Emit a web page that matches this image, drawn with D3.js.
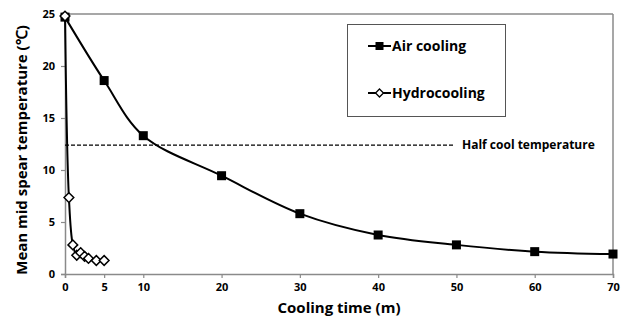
<!DOCTYPE html>
<html><head><meta charset="utf-8">
<script src="https://cdn.jsdelivr.net/npm/d3@7"></script>
<style>body{margin:0;background:#fff}svg{display:block}text{font-family:"Open Sans","Liberation Sans",sans-serif;font-weight:bold}</style>
</head><body>
<svg id="c" width="626" height="322"></svg>
<script>
const airTime = [0, 5, 10, 20, 30, 40, 50, 60, 70];
const airTemp = [24.7, 18.6, 13.3, 9.45, 5.8, 3.75, 2.8, 2.15, 1.92];
const hydroTime = [0, 0.5, 1, 1.5, 2, 2.5, 3, 4, 5];
const hydroTemp = [24.8, 7.35, 2.8, 1.8, 2.05, 1.7, 1.5, 1.3, 1.3];
const xTicks = [0, 5, 10, 20, 30, 40, 50, 60, 70];
const yTicks = [0, 5, 10, 15, 20, 25];
const halfCool = 12.4;
const seriesNames = ["Air cooling", "Hydrocooling"];

const svg = d3.select("#c");
const x = d3.scaleLinear().domain([0, 70]).range([65, 613]);
const y = d3.scaleLinear().domain([0, 25]).range([274, 14]);
const axisColor = "#8a8a8a";

// frame top/right
svg.append("line").attr("x1", x(0)).attr("x2", x(70)).attr("y1", y(25)).attr("y2", y(25)).attr("stroke", axisColor).attr("stroke-width", 1.5);
svg.append("line").attr("x1", x(70)).attr("x2", x(70)).attr("y1", y(25)).attr("y2", y(0)).attr("stroke", axisColor).attr("stroke-width", 1.5);

const xa = svg.append("g").attr("transform", `translate(0,${y(0)})`)
  .call(d3.axisBottom(x).tickValues(xTicks).tickSize(4).tickPadding(5).tickFormat(d3.format("d")));
const ya = svg.append("g").attr("transform", `translate(${x(0)},0)`)
  .call(d3.axisLeft(y).tickValues(yTicks).tickSize(4).tickPadding(6).tickFormat(d3.format("d")));
[xa, ya].forEach(a => {
  a.select(".domain").attr("stroke", axisColor).attr("stroke-width", 1.5);
  a.selectAll(".tick line").attr("stroke", axisColor).attr("stroke-width", 1.2);
  a.selectAll("text").attr("font-size", 11).attr("fill", "#000").style("font-weight", "bold");
});

// half cool line
svg.append("line").attr("x1", x(0)).attr("x2", 455).attr("y1", y(halfCool)).attr("y2", y(halfCool))
  .attr("stroke", "#000").attr("stroke-width", 1.2).attr("stroke-dasharray", "4,2");
svg.append("text").attr("x", 462).attr("y", y(halfCool) + 4).attr("font-size", 12).text("Half cool temperature");

const line = d3.line().x(d => x(d[0])).y(d => y(d[1])).curve(d3.curveCatmullRom.alpha(0.5));
const air = airTime.map((t, i) => [t, airTemp[i]]);
const hydro = hydroTime.map((t, i) => [t, hydroTemp[i]]);

svg.append("path").attr("d", line(hydro)).attr("fill", "none").attr("stroke", "#000").attr("stroke-width", 2);
svg.append("path").attr("d", line(air)).attr("fill", "none").attr("stroke", "#000").attr("stroke-width", 2);

const sq = 9;
svg.selectAll(".sq").data(air).join("rect")
  .attr("x", d => x(d[0]) - sq / 2).attr("y", d => y(d[1]) - sq / 2)
  .attr("width", sq).attr("height", sq).attr("fill", "#000");
const diamond = d3.symbol().type(d3.symbolDiamond2).size(60);
svg.selectAll(".dm").data(hydro).join("path")
  .attr("transform", d => `translate(${x(d[0])},${y(d[1])})`)
  .attr("d", diamond).attr("fill", "#fff").attr("stroke", "#000").attr("stroke-width", 1.5);

// legend
svg.append("rect").attr("x", 347.5).attr("y", 24.5).attr("width", 158).attr("height", 92)
  .attr("fill", "#fff").attr("stroke", "#555").attr("stroke-width", 1);
const lg = [{ y: 46, type: "sq" }, { y: 93, type: "dm" }];
lg.forEach((l, i) => {
  svg.append("line").attr("x1", 368).attr("x2", 391).attr("y1", l.y).attr("y2", l.y).attr("stroke", "#000").attr("stroke-width", 2);
  if (l.type === "sq") {
    svg.append("rect").attr("x", 379.5 - 4).attr("y", l.y - 4).attr("width", 8).attr("height", 8).attr("fill", "#000");
  } else {
    svg.append("path").attr("transform", `translate(379.5,${l.y})`).attr("d", d3.symbol().type(d3.symbolDiamond2).size(40))
      .attr("fill", "#fff").attr("stroke", "#000").attr("stroke-width", 1.3);
  }
  svg.append("text").attr("x", 392).attr("y", l.y + 5).attr("font-size", 14).text(seriesNames[i]);
});

// axis titles
svg.append("text").attr("x", 339).attr("y", 313).attr("text-anchor", "middle").attr("font-size", 15).text("Cooling time (m)");
svg.append("text").attr("transform", "translate(27,150) rotate(-90)").attr("text-anchor", "middle").attr("font-size", 15)
  .text("Mean mid spear temperature (℃)");
</script>
</body></html>
